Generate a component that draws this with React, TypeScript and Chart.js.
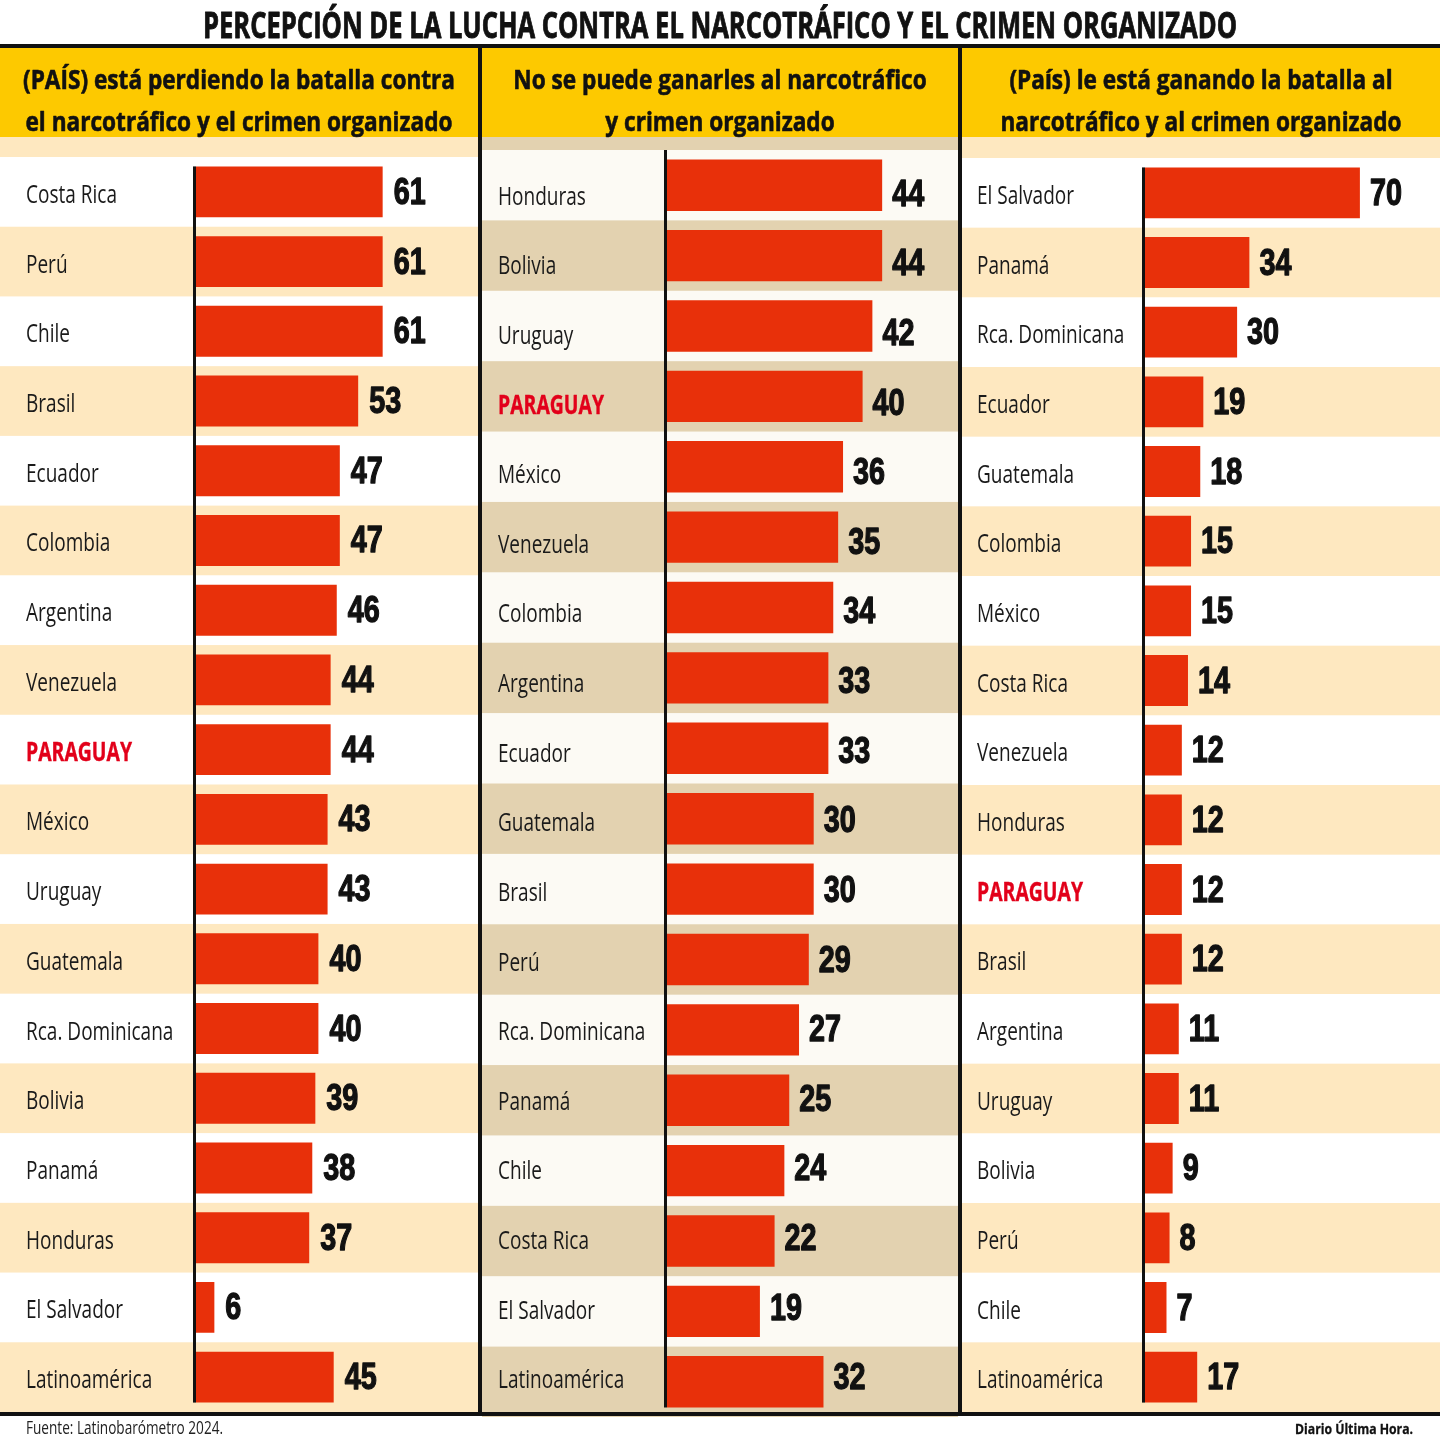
import React, { useEffect, useRef } from "react";
import { Chart, registerables } from "chart.js";

Chart.register(...registerables);

// ---------- DATA ----------
const titleText = "PERCEPCIÓN DE LA LUCHA CONTRA EL NARCOTRÁFICO Y EL CRIMEN ORGANIZADO";
const sourceText = "Fuente: Latinobarómetro 2024.";
const creditText = "Diario Última Hora.";
const highlightLabel = "PARAGUAY";

const header1 = ["(PAÍS) está perdiendo la batalla contra", "el narcotráfico y el crimen organizado"];
const labels1 = ["Costa Rica", "Perú", "Chile", "Brasil", "Ecuador", "Colombia", "Argentina", "Venezuela", "PARAGUAY", "México", "Uruguay", "Guatemala", "Rca. Dominicana", "Bolivia", "Panamá", "Honduras", "El Salvador", "Latinoamérica"];
const values1 = [61, 61, 61, 53, 47, 47, 46, 44, 44, 43, 43, 40, 40, 39, 38, 37, 6, 45];

const header2 = ["No se puede ganarles al narcotráfico", "y crimen organizado"];
const labels2 = ["Honduras", "Bolivia", "Uruguay", "PARAGUAY", "México", "Venezuela", "Colombia", "Argentina", "Ecuador", "Guatemala", "Brasil", "Perú", "Rca. Dominicana", "Panamá", "Chile", "Costa Rica", "El Salvador", "Latinoamérica"];
const values2 = [44, 44, 42, 40, 36, 35, 34, 33, 33, 30, 30, 29, 27, 25, 24, 22, 19, 32];

const header3 = ["(País) le está ganando la batalla al", "narcotráfico y al crimen organizado"];
const labels3 = ["El Salvador", "Panamá", "Rca. Dominicana", "Ecuador", "Guatemala", "Colombia", "México", "Costa Rica", "Venezuela", "Honduras", "PARAGUAY", "Brasil", "Argentina", "Uruguay", "Bolivia", "Perú", "Chile", "Latinoamérica"];
const values3 = [70, 34, 30, 19, 18, 15, 15, 14, 12, 12, 12, 12, 11, 11, 9, 8, 7, 17];

// ---------- STYLE ----------
const BAR_RED = "#E8300A";
const HIGHLIGHT_RED = "#E2001A";
const YELLOW = "#FDC900";
const CREAM = "#FEE8C0";
const TAN = "#E3D2B0";
const OFFWHITE = "#FCFAF4";
const WHITE = "#FFFFFF";
const INK = "#111111";

const SANS = '"Open Sans", "DejaVu Sans", sans-serif';
const NUMF = '"Liberation Sans", Arial, sans-serif';

const LABEL_FONT = `26px ${SANS}`;
const LABEL_BOLD_FONT = `bold 26px ${SANS}`;
const HEADER_FONT = `bold 27px ${SANS}`;
const NUM_FONT = `bold 36px ${NUMF}`;
const TITLE_FONT = `bold 36px ${SANS}`;
const SOURCE_FONT = `18px ${SANS}`;
const CREDIT_FONT = `bold 15px ${SANS}`;

function measure(ctx: CanvasRenderingContext2D, font: string, text: string) {
  ctx.save();
  ctx.font = font;
  const w = ctx.measureText(text).width;
  ctx.restore();
  return w;
}

function drawScaled(
  ctx: CanvasRenderingContext2D,
  text: string,
  x: number,
  y: number,
  font: string,
  sx: number,
  align: "left" | "center" | "right",
  color: string,
  stroke = 0
) {
  ctx.save();
  ctx.font = font;
  ctx.fillStyle = color;
  ctx.strokeStyle = color;
  ctx.lineJoin = "round";
  ctx.textBaseline = "alphabetic";
  ctx.textAlign = "left";
  const w = ctx.measureText(text).width * sx;
  let x0 = x;
  if (align === "center") x0 = x - w / 2;
  else if (align === "right") x0 = x - w;
  ctx.translate(x0, y);
  ctx.scale(sx, 1);
  ctx.fillText(text, 0, 0);
  if (stroke > 0) {
    ctx.lineWidth = stroke;
    ctx.strokeText(text, 0, 0);
  }
  ctx.restore();
}

type Panel = {
  header: string[];
  labels: string[];
  values: number[];
  left: number;
  top: number;
  width: number;
  height: number;
  areaTop: number;
  areaLeft: number;
  max: number;
  ppu: number;
  evenColor: string;
  oddColor: string;
  stripColor: string;
  labelX: number;
  axisFromRowTop: boolean;
  textDyFirst: number;
  textDyLast: number;
  gap: number;
};

const HEADER_H = 89;

const panels: Panel[] = [
  { header: header1, labels: labels1, values: values1, left: 0, top: 48, width: 478, height: 1364, areaTop: 109, areaLeft: 196, max: 90, ppu: 3.06, evenColor: WHITE, oddColor: CREAM, stripColor: CREAM, labelX: 26, axisFromRowTop: false, textDyFirst: 0, textDyLast: 0, gap: 11 },
  { header: header2, labels: labels2, values: values2, left: 482, top: 48, width: 476, height: 1369, areaTop: 102, areaLeft: 185, max: 57, ppu: 4.89, evenColor: OFFWHITE, oddColor: TAN, stripColor: TAN, labelX: 16, axisFromRowTop: true, textDyFirst: 8.5, textDyLast: -4.5, gap: 10 },
  { header: header3, labels: labels3, values: values3, left: 962, top: 48, width: 478, height: 1364, areaTop: 110, areaLeft: 183, max: 90, ppu: 3.07, evenColor: WHITE, oddColor: CREAM, stripColor: CREAM, labelX: 15, axisFromRowTop: false, textDyFirst: 0, textDyLast: 0, gap: 10 },
];

function panelPlugin(p: Panel) {
  return {
    id: "panelDecor",
    beforeDraw(chart: any) {
      const ctx: CanvasRenderingContext2D = chart.ctx;
      const area = chart.chartArea;
      const yScale = chart.scales.y;
      const n = p.labels.length;
      const rowH = (area.bottom - area.top) / n;
      ctx.save();
      ctx.fillStyle = YELLOW;
      ctx.fillRect(0, 0, chart.width, HEADER_H);
      ctx.fillStyle = p.stripColor;
      ctx.fillRect(0, HEADER_H, chart.width, area.top - HEADER_H);
      for (let i = 0; i < n; i++) {
        const yc = yScale.getPixelForValue(i);
        ctx.fillStyle = i % 2 === 0 ? p.evenColor : p.oddColor;
        ctx.fillRect(0, yc - rowH / 2, chart.width, rowH + 0.5);
      }
      ctx.restore();
      const hsx = 432 / measure(ctx, HEADER_FONT, header1[0]);
      drawScaled(ctx, p.header[0], chart.width / 2, 41, HEADER_FONT, hsx, "center", INK, 0.6);
      drawScaled(ctx, p.header[1], chart.width / 2, 83, HEADER_FONT, hsx, "center", INK, 0.6);
    },
    afterDatasetsDraw(chart: any) {
      const ctx: CanvasRenderingContext2D = chart.ctx;
      const area = chart.chartArea;
      const meta = chart.getDatasetMeta(0);
      const xScale = chart.scales.x;
      const first = meta.data[0];
      const last = meta.data[meta.data.length - 1];
      const topY = p.axisFromRowTop ? area.top : first.y - first.height / 2;
      const botY = last.y + last.height / 2;
      ctx.save();
      ctx.fillStyle = INK;
      ctx.fillRect(area.left - 3, topY, 3, botY - topY);
      ctx.restore();

      const lsx = 91 / measure(ctx, LABEL_FONT, "Costa Rica");
      const bsx = 106 / measure(ctx, LABEL_BOLD_FONT, highlightLabel);
      const nsx = 32 / measure(ctx, NUM_FONT, "70");
      const n = p.labels.length;
      p.labels.forEach((lab, i) => {
        const el = meta.data[i];
        const dy = p.textDyFirst + ((p.textDyLast - p.textDyFirst) * i) / (n - 1);
        const yc = el.y + dy;
        if (lab === highlightLabel) {
          drawScaled(ctx, lab, p.labelX, yc + 11, LABEL_BOLD_FONT, bsx, "left", HIGHLIGHT_RED, 0.4);
        } else {
          drawScaled(ctx, lab, p.labelX, yc + 11, LABEL_FONT, lsx, "left", "#1a1a1a");
        }
        const xEnd = xScale.getPixelForValue(p.values[i]);
        drawScaled(ctx, String(p.values[i]), xEnd + p.gap, yc + 12, NUM_FONT, nsx, "left", INK, 1.3);
      });
    },
  };
}

function makeConfig(p: Panel): any {
  const right = p.width - p.areaLeft - p.max * p.ppu;
  return {
    type: "bar",
    data: {
      labels: p.labels,
      datasets: [
        {
          data: p.values,
          backgroundColor: BAR_RED,
          borderWidth: 0,
          barPercentage: 0.73,
          categoryPercentage: 1,
        },
      ],
    },
    options: {
      indexAxis: "y",
      responsive: false,
      maintainAspectRatio: false,
      animation: false,
      events: [],
      layout: { padding: { left: p.areaLeft, right, top: p.areaTop, bottom: 0 } },
      scales: {
        x: { display: false, min: 0, max: p.max },
        y: { display: false },
      },
      plugins: {
        legend: { display: false },
        tooltip: { enabled: false },
        title: { display: false },
      },
    },
    plugins: [panelPlugin(p)],
  };
}

function drawDeco(canvas: HTMLCanvasElement) {
  const ctx = canvas.getContext("2d");
  if (!ctx) return;
  ctx.clearRect(0, 0, 1440, 1440);
  const tsx = 1034 / measure(ctx, TITLE_FONT, titleText);
  drawScaled(ctx, titleText, 720, 38, TITLE_FONT, tsx, "center", INK, 0.9);
  ctx.fillStyle = INK;
  ctx.fillRect(0, 44, 1440, 4);
  ctx.fillRect(0, 1412, 1440, 4);
  ctx.fillRect(478, 44, 4, 1372);
  ctx.fillRect(958, 44, 4, 1372);
  const ssx = 197 / measure(ctx, SOURCE_FONT, sourceText);
  drawScaled(ctx, sourceText, 26, 1434, SOURCE_FONT, ssx, "left", "#222");
  const csx = 118 / measure(ctx, CREDIT_FONT, creditText);
  drawScaled(ctx, creditText, 1413, 1434, CREDIT_FONT, csx, "right", INK, 0.3);
}

export default function App() {
  const r0 = useRef<HTMLCanvasElement>(null);
  const r1 = useRef<HTMLCanvasElement>(null);
  const r2 = useRef<HTMLCanvasElement>(null);
  const deco = useRef<HTMLCanvasElement>(null);
  const refs = [r0, r1, r2];

  useEffect(() => {
    document.body.style.margin = "0";
    const charts = panels.map((p, i) => new Chart(refs[i].current as HTMLCanvasElement, makeConfig(p)));
    if (deco.current) drawDeco(deco.current);
    return () => charts.forEach((c) => c.destroy());
  }, []);

  return (
    <div style={{ position: "absolute", left: 0, top: 0, width: 1440, height: 1440, background: "#fff", overflow: "hidden" }}>
      {panels.map((p, i) => (
        <canvas
          key={i}
          ref={refs[i]}
          width={p.width}
          height={p.height}
          style={{ position: "absolute", left: p.left, top: p.top, width: p.width, height: p.height, display: "block" }}
        />
      ))}
      <canvas
        ref={deco}
        width={1440}
        height={1440}
        style={{ position: "absolute", left: 0, top: 0, width: 1440, height: 1440, zIndex: 2, pointerEvents: "none", display: "block" }}
      />
    </div>
  );
}
